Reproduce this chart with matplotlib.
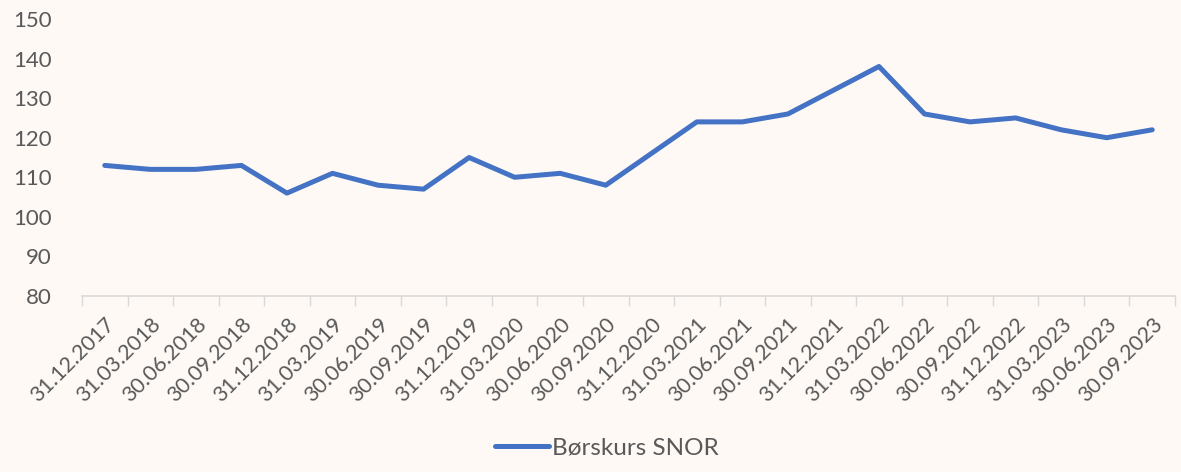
import matplotlib.pyplot as plt
import numpy as np

plt.rcParams['font.family'] = ['Lato', 'DejaVu Sans']

dates = ['31.12.2017', '31.03.2018', '30.06.2018', '30.09.2018', '31.12.2018',
         '31.03.2019', '30.06.2019', '30.09.2019', '31.12.2019', '31.03.2020',
         '30.06.2020', '30.09.2020', '31.12.2020', '31.03.2021', '30.06.2021',
         '30.09.2021', '31.12.2021', '31.03.2022', '30.06.2022', '30.09.2022',
         '31.12.2022', '31.03.2023', '30.06.2023', '30.09.2023']
kurs = [113, 112, 112, 113, 106, 111, 108, 107, 115, 110, 111, 108,
        116, 124, 124, 126, 132, 138, 126, 124, 125, 122, 120, 122]

bg = '#FEF9F5'
grey = '#595959'
blue = '#4472C4'

fig = plt.figure(figsize=(11.81, 4.72), dpi=100, facecolor=bg)
ax = fig.add_axes([82 / 1181, (472 - 296) / 472, (1175 - 82) / 1181, (296 - 19) / 472])
ax.set_facecolor(bg)

x = np.arange(len(dates))
ax.plot(x, kurs, color=blue, lw=3.6, solid_capstyle='round', label='Børskurs SNOR')

ax.set_ylim(80, 150)
ax.set_yticks(range(80, 151, 10))
ax.set_xlim(-0.5, len(dates) - 0.5)
ax.set_xticks(x)
ax.set_xticklabels(dates, rotation=45, ha='right', rotation_mode='anchor')
ax.set_xticks(np.arange(-0.5, len(dates), 1), minor=True)
ax.tick_params(axis='x', which='major', length=0, pad=13, labelsize=15.5, labelcolor=grey)
ax.tick_params(axis='x', which='minor', length=7, width=1, color='#D9D9D9', direction='out')
ax.tick_params(axis='y', length=0, pad=22, labelsize=16, labelcolor=grey)

for s in ['top', 'right', 'left']:
    ax.spines[s].set_visible(False)
ax.spines['bottom'].set_color('#D9D9D9')
ax.spines['bottom'].set_linewidth(1.2)

fig.legend(loc='lower center', bbox_to_anchor=(0.514, -0.017), frameon=False,
           fontsize=17.5, labelcolor=grey, handlelength=2.2, handletextpad=0.15)

fig.savefig('out.png', dpi=100, facecolor=bg)
